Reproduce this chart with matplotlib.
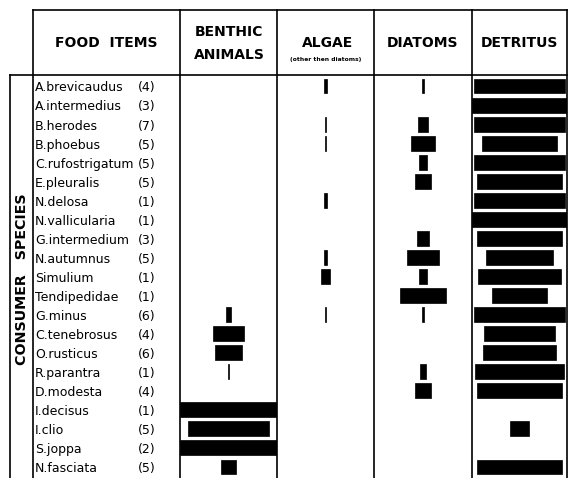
import matplotlib as mpl
mpl.use('Agg')
import matplotlib.pyplot as plt

# food items per consumer species (fraction of column width)
species = ['A.brevicaudus', 'A.intermedius', 'B.herodes', 'B.phoebus', 'C.rufostrigatum',
           'E.pleuralis', 'N.delosa', 'N.vallicularia', 'G.intermedium', 'N.autumnus',
           'Simulium', 'Tendipedidae', 'G.minus', 'C.tenebrosus', 'O.rusticus',
           'R.parantra', 'D.modesta', 'I.decisus', 'I.clio', 'S.joppa', 'N.fasciata']
counts = [4, 3, 7, 5, 5, 5, 1, 1, 3, 5, 1, 1, 6, 4, 6, 1, 4, 1, 5, 2, 5]

benthic = [0, 0, 0, 0, 0, 0, 0, 0, 0, 0, 0, 0,
           0.05, 0.32, 0.28, 0.015, 0, 1.0, 0.84, 1.0, 0.15]
algae = [0.025, 0, 0.017, 0.017, 0, 0, 0.04, 0, 0, 0.03, 0.085, 0,
         0.017, 0, 0, 0, 0, 0, 0, 0, 0]
diatoms = [0.012, 0, 0.10, 0.25, 0.075, 0.155, 0, 0, 0.125, 0.32, 0.08, 0.47,
           0.012, 0, 0, 0.062, 0.16, 0, 0, 0, 0]
detritus = [0.96, 1.0, 0.95, 0.79, 0.95, 0.89, 0.95, 1.0, 0.89, 0.70, 0.88, 0.57,
            0.95, 0.74, 0.77, 0.94, 0.89, 0, 0.20, 0, 0.89]

W, H = 569, 478
fig = plt.figure(figsize=(W / 100, H / 100), dpi=100)

def px_axes(x0, y0, x1, y1):
    return fig.add_axes([x0 / W, 1 - y1 / H, (x1 - x0) / W, (y1 - y0) / H])

# background axes in pixel units for the table rules
bg = px_axes(0, 0, W, H)
bg.set_xlim(0, W)
bg.set_ylim(H, 0)
bg.axis('off')
lw = 1.2
bg.plot([33, 567], [10, 10], color='black', lw=lw)
bg.plot([10, 567], [75, 75], color='black', lw=lw)
bg.plot([10, 10], [75, H], color='black', lw=lw)
for x in [33, 180, 277, 374, 472, 567]:
    bg.plot([x, x], [10, H], color='black', lw=lw)

# headers
hdr = dict(ha='center', va='center', fontweight='bold', color='black')
bg.text(106, 43, 'FOOD  ITEMS', fontsize=10, **hdr)
bg.text(229, 32, 'BENTHIC', fontsize=10, **hdr)
bg.text(229, 55, 'ANIMALS', fontsize=10, **hdr)
bg.text(328, 43, 'ALGAE', fontsize=10, **hdr)
bg.text(326, 59, '(other then diatoms)', fontsize=4.3, **hdr)
bg.text(423, 43, 'DIATOMS', fontsize=10, **hdr)
bg.text(519, 43, 'DETRITUS', fontsize=10, **hdr)
bg.text(22, 279, 'CONSUMER   SPECIES', fontsize=10.3, rotation=90, **hdr)

n = len(species)
ylim = (n - 0.42, -0.58)

# species names and counts
tx = px_axes(33, 75, 180, H)
tx.set_xlim(33, 180)
tx.set_ylim(*ylim)
tx.axis('off')
fig.canvas.draw()
r = fig.canvas.get_renderer()
for i, (name, c) in enumerate(zip(species, counts)):
    t = tx.text(35, i + 0.1, name, fontsize=9, va='center', ha='left')
    bb = t.get_window_extent(renderer=r).transformed(tx.transData.inverted())
    cx = max(138, bb.x1 + 4)
    tx.text(cx, i + 0.1, '(%d)' % c, fontsize=9, va='center', ha='left')

# bar columns
cols = [(180, 277, benthic), (277, 374, algae), (374, 472, diatoms), (472, 567, detritus)]
for x0, x1, vals in cols:
    ax = px_axes(x0, 75, x1, H)
    ax.set_xlim(-0.5, 0.5)
    ax.set_ylim(*ylim)
    ax.axis('off')
    for i, v in enumerate(vals):
        if v > 0:
            ax.barh(i, v, left=-v / 2, height=0.78, color='black',
                    edgecolor='black', linewidth=0.5)

fig.savefig('out.png', dpi=100)
